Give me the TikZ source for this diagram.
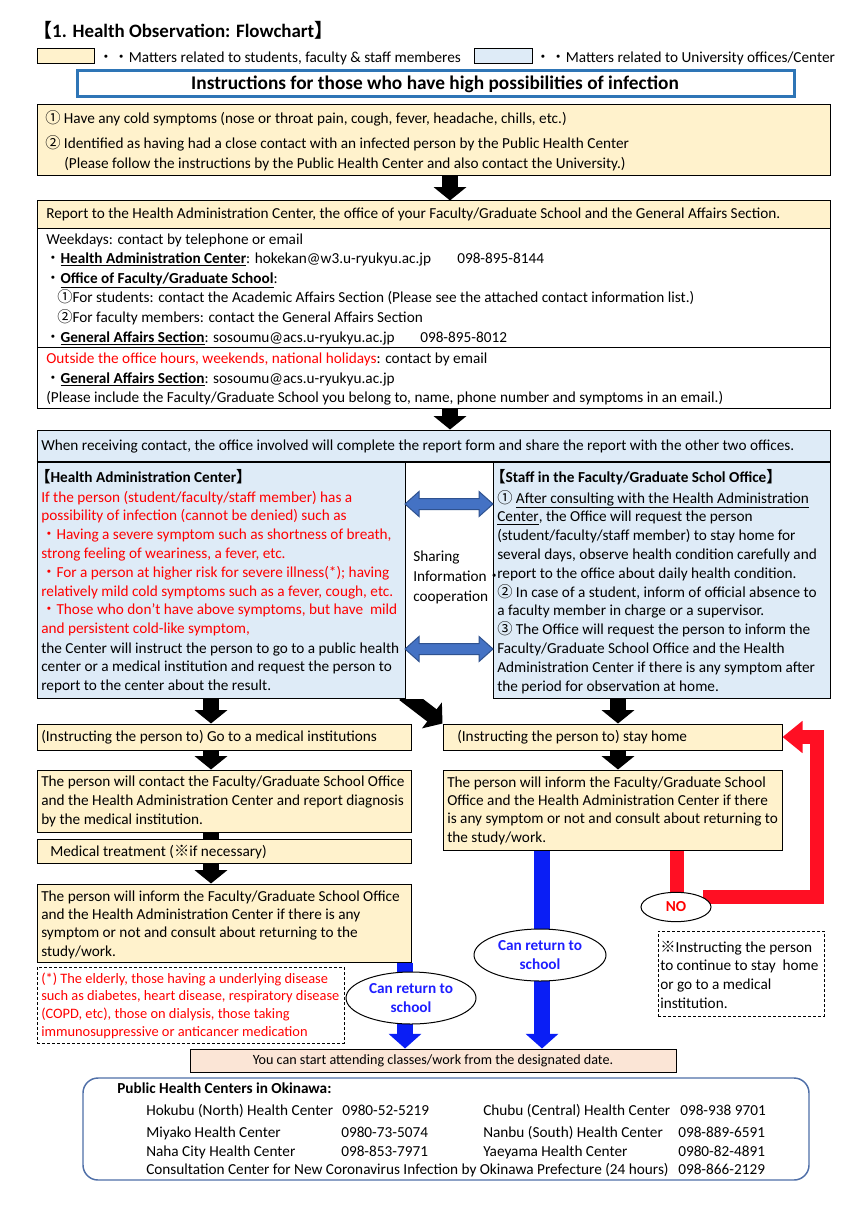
\documentclass[tikz,border=0pt]{standalone}
\usepackage{fontspec}
\setmainfont{Carlito}
\newfontfamily\cjk{Noto Sans CJK JP}
\usetikzlibrary{fit,arrows.meta,shapes.geometric}
\definecolor{cream}{HTML}{FFF2CC}
\definecolor{lblue}{HTML}{DEEBF7}
\definecolor{peach}{HTML}{FBE5D6}
\definecolor{tblue}{HTML}{2E75B6}
\definecolor{rtxt}{HTML}{FF0000}
\definecolor{darrow}{HTML}{4472C4}
\definecolor{darrowb}{HTML}{2F528F}
\definecolor{barrow}{HTML}{0A1EF5}
\definecolor{etxt}{HTML}{1F1FFF}
\definecolor{rarrow}{HTML}{FF0F23}
\definecolor{rbox}{HTML}{4F6FA8}
\newcommand\bsz{\fontsize{11.45}{14.1}\selectfont}
\newcommand\cj[1]{{\cjk #1}}
\pgfdeclarelayer{back}
\pgfdeclarelayer{bg}
\pgfsetlayers{back,bg,main}
\begin{document}
\begin{tikzpicture}[x=0.75pt,y=-0.75pt,
  bx/.style={draw, line width=0.75pt, inner sep=0pt},
  txt/.style={anchor=base west, inner sep=0pt, align=left, font=\bsz},
  blk/.style={line width=11.5pt, -{Triangle[width=24pt,length=10pt]}},
  bl/.style={barrow, line width=12pt, -{Triangle[width=24pt,length=11pt]}},
  rl/.style={rarrow, line width=10.5pt, line join=miter},
  ell/.style={ellipse, draw, fill=white, line width=0.75pt, inner sep=0pt, align=center, font=\fontsize{11.45}{13.9}\selectfont\bfseries, text=etxt},
  dbox/.style={draw, dash pattern=on 2.25pt off 1.5pt, line width=0.6pt, inner sep=0pt}]
\useasboundingbox (0,0) rectangle (859,1216);
\begin{pgfonlayer}{back}
\fill[white] (0,0) rectangle (859,1216);
\end{pgfonlayer}

% title and legend
\node[txt, font=\fontsize{14.2}{17}\selectfont\bfseries] (title) at (33,38) {\cj{【}1. Health Observation: Flowchart\cj{】}};
\node[bx, fill=cream, fit={(37,49)(94,64)}] (leg1) {};
\node[txt] (leg1t) at (98,63) {\cj{・・}Matters related to students, faculty \& staff memberes};
\node[bx, fill=lblue, fit={(474,49)(532,64)}] (leg2) {};
\node[txt] (leg2t) at (535,63) {\cj{・・}Matters related to University offices/Center};
\node[draw=tblue, line width=2.25pt, inner sep=0pt, fit={(77,71)(794,97)}] (hdr) {};
\node[inner sep=0pt, font=\fontsize{14.5}{17}\selectfont\bfseries] (hdrt) at (435,84) {Instructions for those who have high possibilities of infection};

% box 1
\node[bx, fill=cream, fit={(37,105)(830,176)}] (b1) {};
\node[txt] (b1a) at (45,124) {\cj{①} Have any cold symptoms (nose or throat pain, cough, fever, headache, chills, etc.)};
\node[txt] (b1b) at (45,149) {\cj{②} Identified as having had a close contact with an infected person by the Public Health Center};
\node[txt] (b1c) at (64,169) {(Please follow the instructions by the Public Health Center and also contact the University.)};

% box 2
\node[bx, fill=cream, fit={(37,201)(830,229)}] (b2h) {};
\node[txt] (b2ht) at (46,219) {Report to the Health Administration Center, the office of your Faculty/Graduate School and the General Affairs Section.};
\node[bx, fill=white, fit={(37,229)(830,347)}] (b2a) {};
\node[txt] (b2a1) at (46,244) {Weekdays: contact by telephone or email};
\node[txt] (b2a2) at (45,263) {\cj{・}\underline{\textbf{Health Administration Center}}: hokekan@w3.u-ryukyu.ac.jp};
\node[txt] (b2a2n) at (457,263) {098-895-8144};
\node[txt] (b2a3) at (45,283) {\cj{・}\underline{\textbf{Office of Faculty/Graduate School}}:};
\node[txt] (b2a4) at (57,302) {\cj{①}For students: contact the Academic Affairs Section (Please see the attached contact information list.)};
\node[txt] (b2a5) at (57,322) {\cj{②}For faculty members: contact the General Affairs Section};
\node[txt] (b2a6) at (45,342) {\cj{・}\underline{\textbf{General Affairs Section}}: sosoumu@acs.u-ryukyu.ac.jp};
\node[txt] (b2a6n) at (420,342) {098-895-8012};
\node[bx, fill=white, fit={(37,347)(830,408)}] (b2b) {};
\node[txt] (b2b1) at (46,363) {\textcolor{rtxt}{Outside the office hours, weekends, national holidays}: contact by email};
\node[txt] (b2b2) at (45,383) {\cj{・}\underline{\textbf{General Affairs Section}}: sosoumu@acs.u-ryukyu.ac.jp};
\node[txt] (b2b3) at (46,402) {(Please include the Faculty/Graduate School you belong to, name, phone number and symptoms in an email.)};

% box 3 and offices
\node[bx, fill=lblue, fit={(37,430)(830,461)}] (b3) {};
\node[txt] (b3t) at (41,450) {When receiving contact, the office involved will complete the report form and share the report with the other two offices.};
\node[bx, fill=lblue, fit={(37,461)(405,698)}] (lb) {};
\node[bx, fill=lblue, fit={(493,461)(830,698)}] (rb) {};
\draw[line width=1.5pt] (b3.south west) -- (b3.south east);
\node[txt, font=\bsz\bfseries] (lbt) at (35,482) {\cj{【}Health Administration Center\cj{】}};
\node[txt, text=rtxt] (lbr) at (41,633.6) {If the person (student/faculty/staff member) has a\\
possibility of infection (cannot be denied) such as\\
\cj{・}Having a severe symptom such as shortness of breath,\\
strong feeling of weariness, a fever, etc.\\
\cj{・}For a person at higher risk for severe illness(*); having\\
relatively mild cold symptoms such as a fever, cough, etc.\\
\cj{・}Those who don't have above symptoms, but have\ \ mild\\
and persistent cold-like symptom,};
\node[txt] (lbk) at (41,690.6) {the Center will instruct the person to go to a public health\\
center or a medical institution and request the person to\\
report to the center about the result.};
\node[txt, font=\bsz\bfseries] (rbt) at (490,482) {\cj{【}Staff in the Faculty/Graduate Schol Office\cj{】}};
\node[txt] (rbx) at (497,691) {\cj{①} \underline{After consulting with the Health Administration}\\
\underline{Center}, the Office will request the person\\
(student/faculty/staff member) to stay home for\\
several days, observe health condition carefully and\\
report to the office about daily health condition.\\
\cj{②} In case of a student, inform of official absence to\\
a faculty member in charge or a supervisor.\\
\cj{③} The Office will request the person to inform the\\
Faculty/Graduate School Office and the Health\\
Administration Center if there is any symptom after\\
the period for observation at home.};
\node[txt, font=\fontsize{11.45}{15}\selectfont] (share) at (413,601) {Sharing\\Information\cj{・}\\cooperation};
\foreach \yy in {504,649}{
  \filldraw[fill=darrow, draw=darrowb, line width=0.75pt]
    (405,\yy) -- (419,\yy-12.5) -- (419,\yy-5.5) -- (479,\yy-5.5) -- (479,\yy-12.5) -- (493,\yy)
    -- (479,\yy+12.5) -- (479,\yy+5.5) -- (419,\yy+5.5) -- (419,\yy+12.5) -- cycle;
}

% lower flow
\node[bx, fill=cream, fit={(37,724)(411,750)}] (go) {};
\node[txt] (got) at (41,741) {(Instructing the person to) Go to a medical institutions};
\node[bx, fill=cream, fit={(443,724)(782,750)}] (stay) {};
\node[txt] (stayt) at (457,741) {(Instructing the person to) stay home};
\node[bx, fill=cream, fit={(37,770)(411,832)}] (contact) {};
\node[txt, font=\fontsize{11.45}{13.9}\selectfont] (contactt) at (41,824) {The person will contact the Faculty/Graduate School Office\\
and the Health Administration Center and report diagnosis\\
by the medical institution.};
\node[bx, fill=cream, fit={(443,770)(782,850)}] (inf2) {};
\node[txt, font=\fontsize{11.45}{13.8}\selectfont] (inf2t) at (447,842.2) {The person will inform the Faculty/Graduate School\\
Office and the Health Administration Center if there\\
is any symptom or not and consult about returning to\\
the study/work.};
\node[bx, fill=cream, fit={(37,839)(411,863)}] (med) {};
\node[txt] (medt) at (50,856) {Medical treatment (\cj{※}if necessary)};
\node[bx, fill=cream, fit={(37,884)(411,962)}] (inf1) {};
\node[txt, font=\fontsize{11.45}{13.8}\selectfont] (inf1t) at (41,956.2) {The person will inform the Faculty/Graduate School Office\\
and the Health Administration Center if there is any\\
symptom or not and consult about returning to the\\
study/work.};
\node[dbox, fit={(37,967)(344,1043)}] (note1) {};
\node[txt, text=rtxt, font=\fontsize{10.8}{13.3}\selectfont] (note1t) at (41,1036.2) {(*) The elderly, those having a underlying disease\\
such as diabetes, heart disease, respiratory disease\\
(COPD, etc), those on dialysis, those taking\\
immunosuppressive or anticancer medication};
\node[dbox, fit={(658,931)(824,1016)}] (note2) {};
\node[txt, font=\fontsize{11.45}{14}\selectfont] (note2t) at (660,1008) {\cj{※}Instructing the person\\
to continue to stay\ \ home\\
or go to a medical\\
institution.};
\node[bx, fill=peach, fit={(190,1049)(676,1072)}] (final) {};
\node[inner sep=0pt, font=\fontsize{10.6}{13}\selectfont] (finalt) at (433,1061) {You can start attending classes/work from the designated date.};
\node[ell, minimum width=97.5pt, minimum height=39pt] (can1) at (411,998) {Can return to\\school};
\node[ell, minimum width=99pt, minimum height=39pt] (can2) at (540,955) {Can return to\\school};
\node[ell, text=rtxt, minimum width=52.5pt, minimum height=22pt] (no) at (676,907) {NO};

% connectors
\draw[blk] (450,0 |- b1.south) -- (450,0 |- b2h.north);
\draw[blk] (450,0 |- b2b.south) -- (450,0 |- b3.north);
\draw[blk] (211,0 |- lb.south) -- (211,0 |- go.north);
\draw[blk] (618,0 |- rb.south) -- (618,0 |- stay.north);
\begin{scope}
  \clip (380,699) rectangle (460,760);
  \coordinate (dtail) at (404,694);
  \draw[blk] (dtail) -- (stay.north west);
\end{scope}
\draw[blk] (211,0 |- go.south) -- (211,0 |- contact.north);
\draw[blk] (618,0 |- stay.south) -- (618,0 |- inf2.north);
\draw[line width=11.5pt] (211,0 |- contact.south) -- (211,0 |- med.north);
\draw[blk] (211,0 |- med.south) -- (211,0 |- inf1.north);
\begin{pgfonlayer}{bg}
  \draw[bl] (405,0 |- inf1.south) -- (405,0 |- final.north);
  \draw[bl] (542,0 |- inf2.south) -- (542,0 |- final.north);
  \draw[rl] (677,0 |- inf2.south) -- (677,0 |- no.north);
  \draw[rl, -{Triangle[width=23.25pt,length=15pt]}] (no.20) -- (817,0 |- no.20) -- (817,0 |- stay.east) -- (stay.east);
\end{pgfonlayer}

% public health centers
\node[draw=rbox, rounded corners=11.25pt, line width=1.1pt, inner sep=0pt, fit={(83,1078)(809,1180)}] (phc) {};
\node[txt, font=\bsz\bfseries] (phc0) at (117,1093) {Public Health Centers in Okinawa:};
\node[txt] (phc1a) at (146,1115) {Hokubu (North) Health Center};
\node[txt] (phc1b) at (342,1115) {0980-52-5219};
\node[txt] (phc1c) at (483,1115) {Chubu (Central) Health Center};
\node[txt] (phc1d) at (680,1115) {098-938 9701};
\node[txt] (phc2a) at (146,1137) {Miyako Health Center};
\node[txt] (phc2b) at (341,1137) {0980-73-5074};
\node[txt] (phc2c) at (483,1137) {Nanbu (South) Health Center};
\node[txt] (phc2d) at (678,1137) {098-889-6591};
\node[txt] (phc3a) at (146,1156) {Naha City Health Center};
\node[txt] (phc3b) at (341,1156) {098-853-7971};
\node[txt] (phc3c) at (483,1156) {Yaeyama Health Center};
\node[txt] (phc3d) at (678,1156) {0980-82-4891};
\node[txt] (phc4a) at (146,1174) {Consultation Center for New Coronavirus Infection by Okinawa Prefecture (24 hours)};
\node[txt] (phc4d) at (678,1174) {098-866-2129};
\end{tikzpicture}
\end{document}
